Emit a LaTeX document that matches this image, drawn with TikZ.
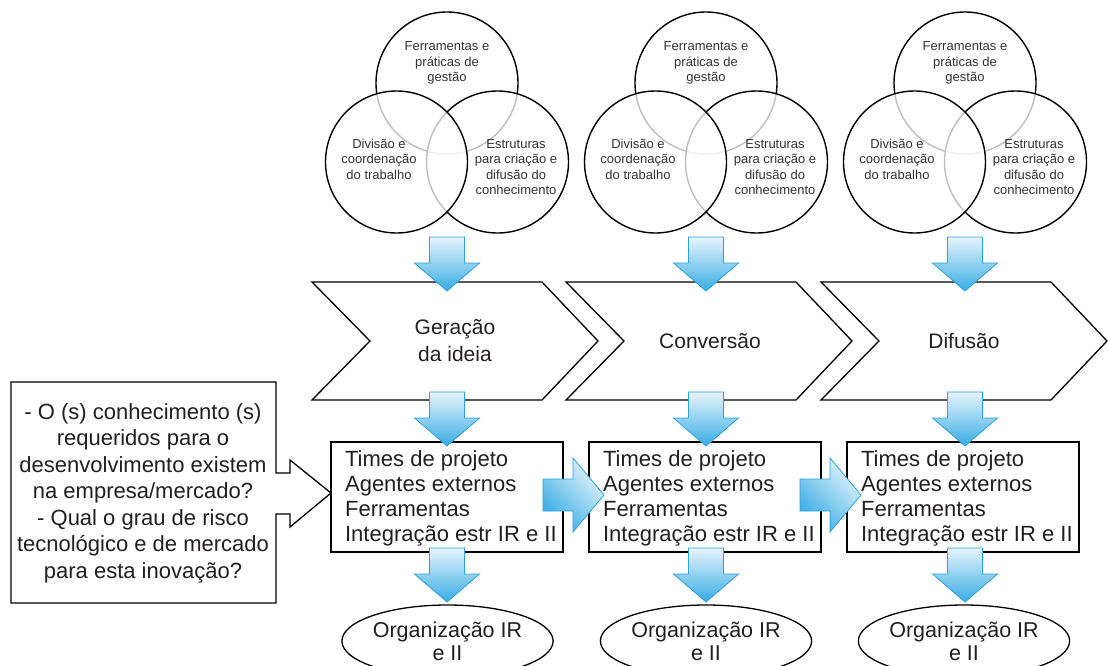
\documentclass[tikz,border=0pt]{standalone}
\usepackage{fontspec}
\setmainfont{Liberation Sans}
\usetikzlibrary{shapes.geometric}
\definecolor{arrblue}{HTML}{38ACE4}
\definecolor{arrlight}{HTML}{E6F4FC}
\definecolor{arredge}{HTML}{2AA3DC}
\definecolor{txt}{HTML}{231F20}
\definecolor{ctxt}{HTML}{333333}
\begin{document}
\begin{tikzpicture}[x=1pt,y=-1pt,
  venn/.style={line width=1.4pt, draw=black},
  vennfill/.style={venn, fill=white, fill opacity=0.75},
  ctext/.style={align=center, text=ctxt, font=\fontsize{13}{15.5}\selectfont, inner sep=0pt},
  chev/.style={line width=1.3pt, draw=black, fill=white, line join=miter},
  chtext/.style={align=center, text=txt, font=\fontsize{21}{27}\selectfont, inner sep=0pt},
  box/.style={draw=black, line width=2.2pt, minimum width=232pt, minimum height=110pt, inner sep=0pt},
  boxtext/.style={anchor=west, align=left, inner sep=0pt, text=txt, font=\fontsize{22}{25}\selectfont},
  orgnode/.style={ellipse, draw=black, line width=1.3pt, minimum width=191pt, minimum height=72pt, inner sep=0pt, align=center, text=txt, font=\fontsize{21.5}{23}\selectfont},
  pics/downarr/.style={code={
    \shade[top color=arrlight, bottom color=arrblue, draw=arredge, line width=0.8pt]
      (-17.5,0) -- (17.5,0) -- (17.5,26) -- (32.5,26) -- (0,54) -- (-32.5,26) -- (-17.5,26) -- cycle;}},
  pics/rightarr/.style={code={
    \shade[top color=arrlight, bottom color=arrblue, shading angle=-45, draw=arredge, line width=0.8pt]
      (0,-16) -- (30,-16) -- (30,-37) -- (61,0) -- (30,37) -- (30,16) -- (0,16) -- cycle;}}
]
\useasboundingbox (0,0) rectangle (1108,666);
\clip (0,0) rectangle (1108,666);
\fill[white] (0,0) rectangle (1108,666);

% Venn sets
\foreach \dx/\i in {0/1,259/2,518/3}{
  \draw[venn] (447+\dx,83) circle[radius=71pt];
  \draw[vennfill] (497.5+\dx,162) circle[radius=71pt];
  \draw[vennfill] (396.5+\dx,162) circle[radius=71pt];
  \node[ctext] (vt\i) at (447+\dx,63) {Ferramentas e\\práticas de\\gestão};
  \node[ctext] (vl\i) at (379+\dx,159) {Divisão e\\coordenação\\do trabalho};
  \node[ctext] (vr\i) at (516+\dx,167) {Estruturas\\para criação e\\difusão do\\conhecimento};
}

% Chevrons
\foreach \xl in {312,566,821}{
  \draw[chev] (\xl,282) -- (\xl+230,282) -- (\xl+286,341) -- (\xl+230,400) -- (\xl,400) -- (\xl+58,341) -- cycle;
}
\node[chtext] (ch1) at (455,341) {Geração\\da ideia};
\node[chtext] (ch2) at (710,341) {Conversão};
\node[chtext] (ch3) at (964,341) {Difusão};

% Boxes
\foreach \cx/\i in {447/1,705/2,963/3}{
  \node[box] (b\i) at (\cx,497) {};
  \node[boxtext] (bt\i) at ([xshift=15pt,yshift=-1.5pt]b\i.west) {Times de projeto\\Agentes externos\\Ferramentas\\Integração estr IR e II};
}

% Left callout box
\draw[line width=1.3pt, line join=miter] (11,382) -- (276,382) -- (276,473) -- (290,473) -- (290,460) -- (331,493)
  -- (290,527) -- (290,514) -- (276,514) -- (276,603) -- (11,603) -- cycle;
\node[align=center, text=txt, font=\fontsize{22}{26.5}\selectfont, inner sep=0pt] (q) at (143,493)
  {- O (s) conhecimento (s)\\requeridos para o\\desenvolvimento existem\\na empresa/mercado?\\- Qual o grau de risco\\tecnológico e de mercado\\para esta inovação?};

% Ellipses
\node[orgnode] (o1) at (447.5,641) {Organização IR\\e II};
\node[orgnode] (o2) at (706,641) {Organização IR\\e II};
\node[orgnode] (o3) at (964,641) {Organização IR\\e II};

% Blue arrows
\foreach \cx in {447,706,965}{
  \pic at (\cx,237) {downarr};
  \pic at (\cx,392) {downarr};
  \pic at (\cx,548) {downarr};
}
\pic at (543,495) {rightarr};
\pic at (800,495) {rightarr};
\end{tikzpicture}
\end{document}
